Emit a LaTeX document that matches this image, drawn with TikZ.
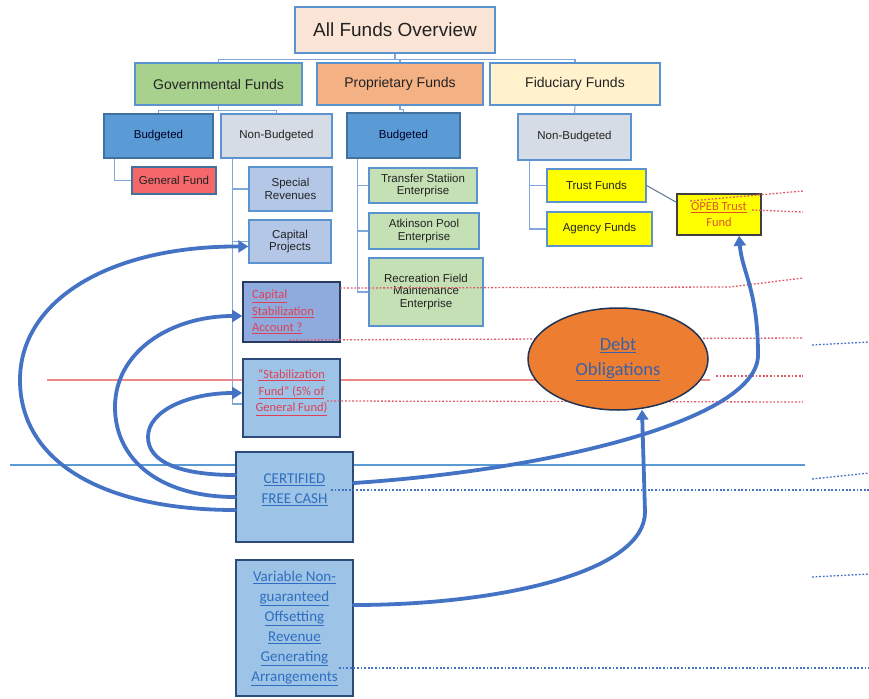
\documentclass[tikz,border=0pt]{standalone}
\usepackage{fontspec}
\setmainfont{Liberation Sans}
\newfontfamily\calib{Carlito}
\usetikzlibrary{arrows.meta,calc,shapes.geometric}
\definecolor{cEdge}{HTML}{5B93D0}
\definecolor{cEdgeD}{HTML}{41719C}
\definecolor{cNavy}{HTML}{2E4A7A}
\definecolor{cLine}{HTML}{7FA7D9}
\definecolor{cPeach}{HTML}{FBE5D6}
\definecolor{cGreen}{HTML}{A9D18E}
\definecolor{cOrange}{HTML}{F4B183}
\definecolor{cCream}{HTML}{FFF2CC}
\definecolor{cBlue}{HTML}{5B9BD5}
\definecolor{cGray}{HTML}{D6DCE5}
\definecolor{cRed}{HTML}{F4686C}
\definecolor{cLBlue}{HTML}{B4C7E7}
\definecolor{cMBlue}{HTML}{8FAADC}
\definecolor{cSky}{HTML}{9DC3E6}
\definecolor{cEnt}{HTML}{C5E0B4}
\definecolor{cYel}{HTML}{FFFF00}
\definecolor{cDebt}{HTML}{ED7D31}
\definecolor{cArrow}{HTML}{4472C4}
\definecolor{cLink}{HTML}{2F6EC0}
\definecolor{cRedTxt}{HTML}{E04055}
\definecolor{cOpebTxt}{HTML}{E0532A}
\definecolor{cRedLine}{HTML}{EC8A8A}
\definecolor{cRedDot}{HTML}{E05A6A}
\definecolor{cBlueDot}{HTML}{4472C4}
\definecolor{cTxt}{HTML}{222222}
\begin{document}
\begin{tikzpicture}[x=1pt,y=-1pt,
  tb/.style={draw=cEdge, line width=1.4pt, rectangle, align=center, text=cTxt, inner sep=1pt,
    font=\fontsize{11.5}{12.5}\selectfont},
  head/.style={tb, minimum height=42pt, font=\fontsize{14}{16}\selectfont},
  navybox/.style={draw=cNavy, line width=1.6pt, rectangle, fill=cSky},
  ctext/.style={align=center, inner sep=0pt, font=\calib\fontsize{15}{20}\selectfont, text=cLink},
  rtext/.style={inner sep=0pt, font=\calib\fontsize{12.5}{16.5}\selectfont, text=cRedTxt},
  conn/.style={draw=cLine, line width=1.1pt},
  bigarrow/.style={draw=cArrow, line width=3.8pt, line cap=round, line join=round, -{Triangle[length=10pt,width=12pt]}},
  reddot/.style={draw=cRedDot, line width=1.3pt, dash pattern=on 1.8pt off 1.8pt},
  bluedot/.style={draw=cBlueDot, line width=1.3pt, dash pattern=on 1.8pt off 1.8pt}
]
\useasboundingbox (0,0) rectangle (869,698);

% background solid lines
\coordinate (rl1) at (47,380);
\coordinate (rl2) at (710,380);
\draw[cRedLine, line width=1.2pt] (rl1) -- (rl2);
\coordinate (bl1) at (10,465);
\coordinate (bl2) at (805,465);
\draw[cBlue, line width=1.3pt] (bl1) -- (bl2);

% top level
\node[tb, fill=cPeach, minimum width=200pt, minimum height=46pt, font=\fontsize{19}{22}\selectfont] (top) at (395,30) {All Funds Overview};
\node[head, fill=cGreen, minimum width=167pt] (gov) at (218.5,84) {Governmental Funds};
\node[head, fill=cOrange, minimum width=166pt] (prop) at (400,84) {Proprietary Funds};
\node[head, fill=cCream, minimum width=170pt] (fid) at (575,84) {Fiduciary Funds};

% second level
\node[tb, draw=cEdgeD, fill=cBlue, minimum width=109pt, minimum height=44pt, text=black!85!blue] (gbud) at (158.5,136) {Budgeted};
\node[tb, fill=cGray, minimum width=111pt, minimum height=44pt] (gnon) at (276.5,136) {Non-Budgeted};
\node[tb, draw=cEdgeD, fill=cBlue, minimum width=113pt, minimum height=45pt, text=black!85!blue] (pbud) at (403.5,135.5) {Budgeted};
\node[tb, fill=cGray, minimum width=113pt, minimum height=46pt] (fnon) at (574.5,137) {Non-Budgeted};

% third level
\node[tb, draw=cEdgeD, fill=cRed, minimum width=84pt, minimum height=27pt] (genf) at (174,180.5) {General Fund};
\node[tb, fill=cLBlue, minimum width=83pt, minimum height=44pt] (specrev) at (290.5,189) {Special\\Revenues};
\node[tb, fill=cLBlue, minimum width=82pt, minimum height=43pt] (cappro) at (290,241.5) {Capital\\Projects};
\node[draw=cNavy!80!black, line width=1.6pt, rectangle, fill=cMBlue, minimum width=97pt, minimum height=60pt] (capstab) at (291.5,312) {};
\node[navybox, minimum width=97pt, minimum height=78pt] (stabf) at (291.5,398) {};
\node[tb, fill=cEnt, minimum width=108pt, minimum height=35pt] (transfer) at (423,185.5) {Transfer Statiion\\Enterprise};
\node[tb, fill=cEnt, minimum width=110pt, minimum height=36pt] (atk) at (424,231) {Atkinson Pool\\Enterprise};
\node[tb, fill=cEnt, minimum width=114pt, minimum height=68pt] (rec) at (426,292) {Recreation Field\\Maintenance\\Enterprise};
\node[tb, fill=cYel, minimum width=99pt, minimum height=33pt] (trust) at (596.5,185.5) {Trust Funds};
\node[tb, fill=cYel, minimum width=105pt, minimum height=34pt] (agency) at (599.5,229) {Agency Funds};
\node[draw=black!75, line width=1.6pt, rectangle, fill=cYel, minimum width=84pt, minimum height=41pt, align=center, inner sep=0pt,
  font=\calib\fontsize{12.5}{16}\selectfont, text=cOpebTxt] (opeb) at (719,214.5) {\underline{OPEB Trust}\\Fund};

% bottom boxes
\node[navybox, minimum width=117pt, minimum height=90pt] (cert) at (294.5,497) {};
\node[navybox, minimum width=117pt, minimum height=136pt] (var) at (294.5,628) {};

% box texts
\node[rtext, anchor=west, align=left] (capT) at (252,312) {\underline{Capital}\\\underline{Stabilization}\\\underline{Account ?}};
\node[rtext, align=center] (stabT) at (291.5,392.5) {\underline{“Stabilization}\\\underline{Fund” (5\% of}\\\underline{General Fund)}};
\node[ctext] (certT) at (294.5,490) {\underline{CERTIFIED}\\\underline{FREE CASH}};
\node[ctext] (varT) at (294.5,628.5) {\underline{Variable Non-}\\\underline{guaranteed}\\\underline{Offsetting}\\\underline{Revenue}\\\underline{Generating}\\\underline{Arrangements}};

% tree connectors
\draw[conn] (top.south) -- ++(0,6) -| (gov.north);
\draw[conn] (top.south) -- ++(0,6) -| (prop.north);
\draw[conn] (top.south) -- ++(0,6) -| (fid.north);
\draw[conn] (gov.south) -- ++(0,4.5) -| (gbud.north);
\draw[conn] (gov.south) -- ++(0,4.5) -| (gnon.north);
\draw[conn] (prop.south) -- ++(0,4) -| (pbud.north);
\draw[conn] (fid.south) -- (fnon.north);
\draw[conn] ($(gbud.south west)+(11,0)$) |- (genf.west);
\draw[conn] ($(gnon.south west)+(12,0)$) |- (specrev.west);
\draw[conn] ($(gnon.south west)+(12,0)$) |- (cappro.west);
\draw[conn] ($(gnon.south west)+(12,0)$) |- ($(stabf.west)+(0,6)$);
\draw[conn] ($(pbud.south west)+(11,0)$) |- (transfer.west);
\draw[conn] ($(pbud.south west)+(11,0)$) |- (atk.west);
\draw[conn] ($(pbud.south west)+(11,0)$) |- (rec.west);
\draw[conn] ($(fnon.south west)+(12,0)$) |- (trust.west);
\draw[conn] ($(fnon.south west)+(12,0)$) |- (agency.west);
\draw[draw=black!30!cLine, line width=1pt] (trust.east) -- ($(opeb.north west)+(0,9)$);

% dotted lines
\coordinate (rd1a) at (340,288); \coordinate (rd1b) at (730,287); \coordinate (rd1c) at (803,278);
\draw[reddot] (rd1a) -- (rd1b) -- (rd1c);
\coordinate (rd2a) at (289,340); \coordinate (rd2b) at (803,338);
\draw[reddot] (rd2a) -- (rd2b);
\coordinate (rd3a) at (327,401); \coordinate (rd3b) at (803,402);
\draw[reddot] (rd3a) -- (rd3b);
\coordinate (rd4a) at (716,376); \coordinate (rd4b) at (803,376);
\draw[reddot] (rd4a) -- (rd4b);
\coordinate (rd5a) at (690,201); \coordinate (rd5b) at (803,191);
\draw[reddot] (rd5a) -- (rd5b);
\coordinate (rd6a) at (752,210); \coordinate (rd6b) at (803,212);
\draw[reddot] (rd6a) -- (rd6b);
\coordinate (bd1a) at (812,345); \coordinate (bd1b) at (869,342);
\draw[bluedot] (bd1a) -- (bd1b);
\coordinate (bd2a) at (331,490); \coordinate (bd2b) at (869,490);
\draw[bluedot] (bd2a) -- (bd2b);
\coordinate (bd3a) at (812,479); \coordinate (bd3b) at (869,473);
\draw[bluedot] (bd3a) -- (bd3b);
\coordinate (bd4a) at (812,577); \coordinate (bd4b) at (869,574);
\draw[bluedot] (bd4a) -- (bd4b);
\coordinate (bd5a) at (339,668); \coordinate (bd5b) at (869,668);
\draw[bluedot] (bd5a) -- (bd5b);

% debt ellipse
\node[ellipse, draw=cNavy!70!black, line width=1.5pt, fill=cDebt, minimum width=180pt, minimum height=102pt, inner sep=0pt,
  align=center, font=\calib\fontsize{18.5}{25}\selectfont, text=cArrow!85!black] (debt) at (618,359) {\underline{Debt}\\\underline{Obligations}};

% big arrows
\draw[bigarrow] ($(cert.west)+(0,13)$) .. controls (100,510) and (20,460) .. (20,380)
   .. controls (20,300) and (110,246) .. ($(cappro.west)+(0,5)$);
\draw[bigarrow] (cert.west) .. controls (160,497) and (115,460) .. (115,407)
   .. controls (115,352) and (170,316) .. ($(capstab.west)+(0,4)$);
\draw[bigarrow] ($(cert.west)+(0,-22)$) .. controls (180,475) and (148,462) .. (148,437)
   .. controls (148,410) and (190,393) .. ($(stabf.west)+(0,-5)$);
\draw[bigarrow] ($(cert.east)+(0,-14)$) .. controls (550,470) and (758,420) .. (758,355)
   .. controls (758,290) and (742,272) .. ($(opeb.south)+(20,0)$);
\draw[bigarrow] ($(var.east)+(0,-23)$) .. controls (500,605) and (645,572) .. (645,512)
   -- ($(debt.south)+(24,-1)$);
\end{tikzpicture}
\end{document}
